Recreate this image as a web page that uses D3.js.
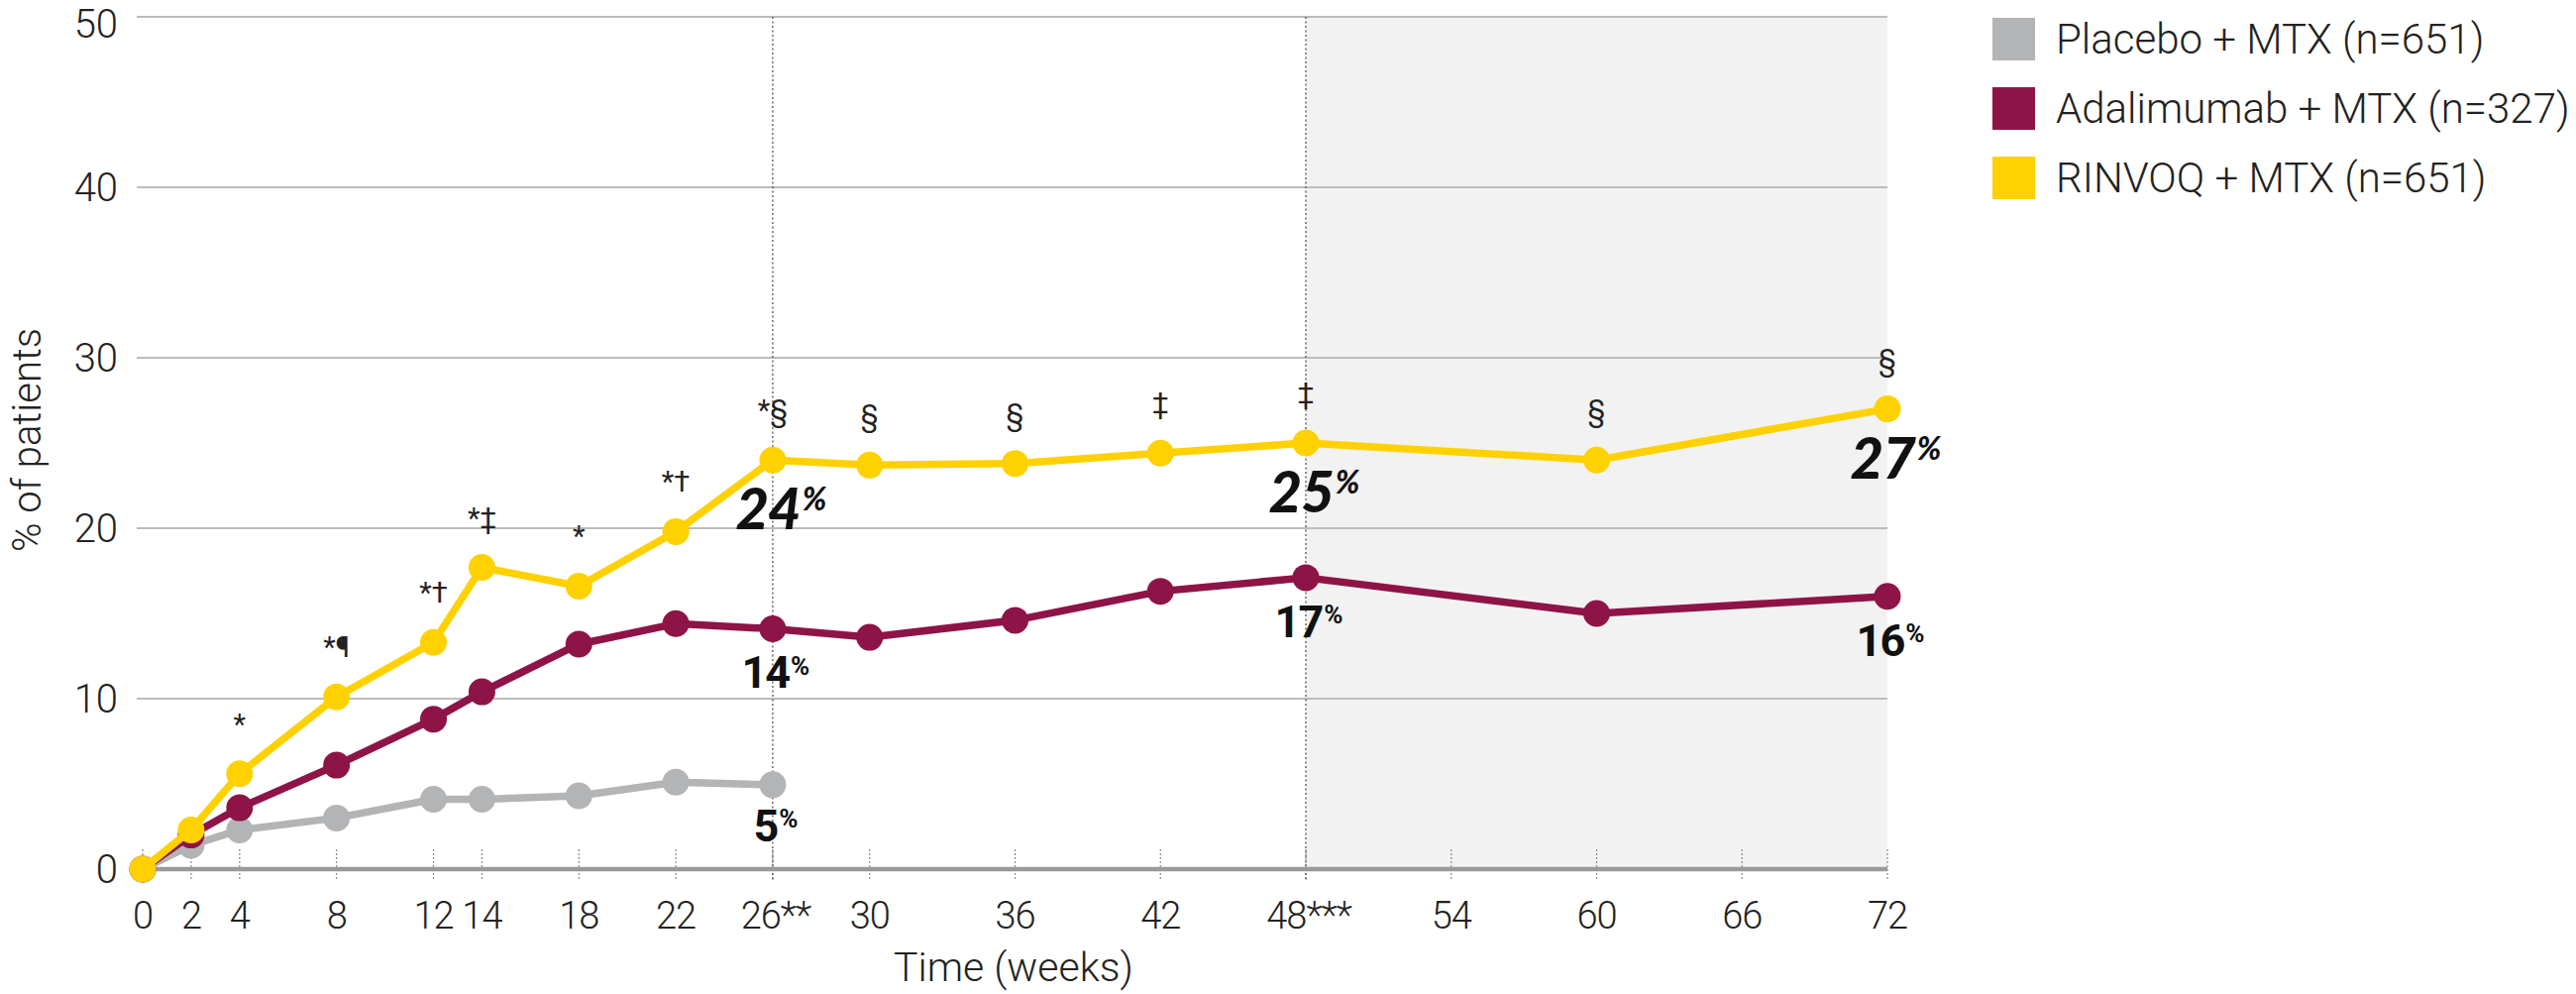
<!DOCTYPE html>
<html>
<head>
<meta charset="utf-8">
<script src="https://cdn.jsdelivr.net/npm/d3@7"></script>
<style>
  html, body { margin: 0; padding: 0; background: #fff; }
  svg { display: block; }
</style>
</head>
<body>
<svg id="chart" width="2600" height="1003"></svg>
<script>
// ---- DATA ----
const weeksActive = [0, 2, 4, 8, 12, 14, 18, 22, 26, 30, 36, 42, 48, 60, 72];
const weeksPlacebo = [0, 2, 4, 8, 12, 14, 18, 22, 26];
const rinvoqValues = [0, 2.3, 5.6, 10.1, 13.3, 17.7, 16.6, 19.8, 24.0, 23.7, 23.8, 24.4, 25.0, 24.0, 27.0];
const adalimumabValues = [0, 2.0, 3.6, 6.1, 8.8, 10.4, 13.2, 14.4, 14.1, 13.6, 14.6, 16.3, 17.1, 15.0, 16.0];
const placeboValues = [0, 1.4, 2.3, 3.0, 4.1, 4.1, 4.3, 5.1, 4.95];
const rinvoqSymbols = ["", "", "*", "*¶", "*†", "*‡", "*", "*†", "*§", "§", "§", "‡", "‡", "§", "§"];
const xTicks = [0, 2, 4, 8, 12, 14, 18, 22, 26, 30, 36, 42, 48, 54, 60, 66, 72];
const xTickLabels = {26: "26**", 48: "48***"};
const yTicks = [0, 10, 20, 30, 40, 50];
const refWeeks = [26, 48];
const shadeFrom = 48;
const legendLabels = ["Placebo + MTX (n=651)", "Adalimumab + MTX (n=327)", "RINVOQ + MTX (n=651)"];
const rinvoqCallouts = [{week: 26, text: "24"}, {week: 48, text: "25"}, {week: 72, text: "27"}];
const adaCallouts = [{week: 26, text: "14"}, {week: 48, text: "17"}, {week: 72, text: "16"}];
const placeboCallouts = [{week: 26, text: "5"}];

const colors = {placebo: "#b3b4b6", ada: "#8e1447", rinvoq: "#ffd100"};

// ---- SCALES ----
const svg = d3.select("#chart");
const x = d3.scaleLinear().domain([0, 72]).range([144, 1905]);
const y = d3.scaleLinear().domain([0, 50]).range([877, 17]);
const gridLeft = 138;

// shaded region
svg.append("rect")
  .attr("x", x(shadeFrom)).attr("y", y(50))
  .attr("width", x(72) - x(shadeFrom)).attr("height", y(0) - y(50))
  .attr("fill", "#f2f2f2");

// gridlines
svg.append("g").selectAll("line").data(yTicks.filter(d => d > 0)).join("line")
  .attr("x1", gridLeft).attr("x2", x(72))
  .attr("y1", d => y(d)).attr("y2", d => y(d))
  .attr("stroke", "#bcbcbc").attr("stroke-width", 2.2);

// x tick marks (dotted)
svg.append("g").selectAll("line").data(xTicks).join("line")
  .attr("x1", d => x(d)).attr("x2", d => x(d))
  .attr("y1", y(0) - 20).attr("y2", y(0) + 11)
  .attr("stroke", "#8a8a8a").attr("stroke-width", 1.2)
  .attr("stroke-dasharray", "2,2");

// reference dotted lines
svg.append("g").selectAll("line").data(refWeeks).join("line")
  .attr("x1", d => x(d)).attr("x2", d => x(d))
  .attr("y1", y(50)).attr("y2", y(0) + 11)
  .attr("stroke", "#555").attr("stroke-width", 1.3)
  .attr("stroke-dasharray", "2,2.5");

// x axis baseline
svg.append("line")
  .attr("x1", gridLeft).attr("x2", x(72))
  .attr("y1", y(0)).attr("y2", y(0))
  .attr("stroke", "#9a9a9a").attr("stroke-width", 4.5);

// y tick labels (top one nudged so it stays inside the canvas)
svg.append("g").selectAll("text").data(yTicks).join("text")
  .attr("x", 119).attr("y", d => Math.max(y(d), 24))
  .attr("dy", "0.355em")
  .attr("text-anchor", "end")
  .attr("font-family", "Roboto").attr("font-weight", 300)
  .attr("font-size", 40).attr("fill", "#222")
  .text(d => d);

// x tick labels
svg.append("g").selectAll("text").data(xTicks).join("text")
  .attr("x", d => x(d) + (xTickLabels[d] ? 3 : 0)).attr("y", 937)
  .attr("text-anchor", "middle")
  .attr("font-family", "Roboto").attr("font-weight", 300)
  .attr("font-size", 38).attr("fill", "#222")
  .attr("letter-spacing", -1)
  .text(d => xTickLabels[d] || d);

// axis titles
svg.append("text")
  .attr("transform", `translate(41,444) rotate(-90)`)
  .attr("text-anchor", "middle")
  .attr("font-family", "Roboto").attr("font-weight", 300)
  .attr("font-size", 40).attr("fill", "#222")
  .text("% of patients");

svg.append("text")
  .attr("x", 1023).attr("y", 990)
  .attr("text-anchor", "middle")
  .attr("font-family", "Roboto").attr("font-weight", 300)
  .attr("font-size", 41).attr("fill", "#222")
  .text("Time (weeks)");

// ---- SERIES ----
const line = d3.line().x(d => x(d.w)).y(d => y(d.v));
function series(weeks, vals, color) {
  const data = weeks.map((w, i) => ({w, v: vals[i]}));
  const g = svg.append("g");
  g.append("path").datum(data)
    .attr("d", line).attr("fill", "none")
    .attr("stroke", color).attr("stroke-width", 7.5)
    .attr("stroke-linejoin", "round");
  g.selectAll("circle").data(data).join("circle")
    .attr("cx", d => x(d.w)).attr("cy", d => y(d.v))
    .attr("r", 13.5).attr("fill", color);
  return data;
}
series(weeksPlacebo, placeboValues, colors.placebo);
series(weeksActive, adalimumabValues, colors.ada);
series(weeksActive, rinvoqValues, colors.rinvoq);

// symbols above RINVOQ points
svg.append("g").selectAll("text")
  .data(weeksActive.map((w, i) => ({w, v: rinvoqValues[i], s: rinvoqSymbols[i]})).filter(d => d.s))
  .join("text")
  .attr("x", d => x(d.w)).attr("y", d => y(d.v) - 40)
  .attr("text-anchor", "middle")
  .attr("font-family", "Roboto").attr("font-weight", 400)
  .attr("font-size", 29).attr("fill", "#222")
  .text(d => d.s);

// callout labels
function callouts(list, weeks, vals, opts) {
  list.forEach(c => {
    const i = weeks.indexOf(c.week);
    const t = svg.append("text")
      .attr("x", x(c.week) + opts.dx).attr("y", y(vals[i]) + opts.dy)
      .attr("text-anchor", "middle")
      .attr("font-family", opts.family).attr("font-weight", opts.weight)
      .attr("font-style", opts.style)
      .attr("font-size", opts.size).attr("fill", "#111")
      .attr("letter-spacing", opts.ls);
    t.append("tspan").text(c.text);
    t.append("tspan")
      .attr("font-size", opts.pSize)
      .attr("dy", -(opts.size - opts.pSize) * 0.72)
      .attr("dx", 2)
      .text("%");
  });
}
callouts(rinvoqCallouts, weeksActive, rinvoqValues,
  {dx: 8, dy: 70, family: "Lato", weight: 900, style: "italic", size: 58, pSize: 32, ls: -1});
callouts(adaCallouts, weeksActive, adalimumabValues,
  {dx: 2, dy: 60, family: "Roboto", weight: 700, size: 45, style: "normal", pSize: 26, ls: -2});
callouts(placeboCallouts, weeksPlacebo, placeboValues,
  {dx: 2, dy: 57, family: "Roboto", weight: 700, size: 45, style: "normal", pSize: 26, ls: -2});

// ---- LEGEND ----
const legendColors = [colors.placebo, colors.ada, colors.rinvoq];
const lg = svg.append("g").selectAll("g").data(legendLabels).join("g")
  .attr("transform", (d, i) => `translate(2011, ${18 + i * 70})`);
lg.append("rect").attr("width", 43).attr("height", 43)
  .attr("fill", (d, i) => legendColors[i]);
lg.append("text")
  .attr("x", 64).attr("y", 21.5).attr("dy", "0.355em")
  .attr("font-family", "Roboto").attr("font-weight", 300)
  .attr("font-size", 42).attr("fill", "#222")
  .text(d => d);
</script>
</body>
</html>
